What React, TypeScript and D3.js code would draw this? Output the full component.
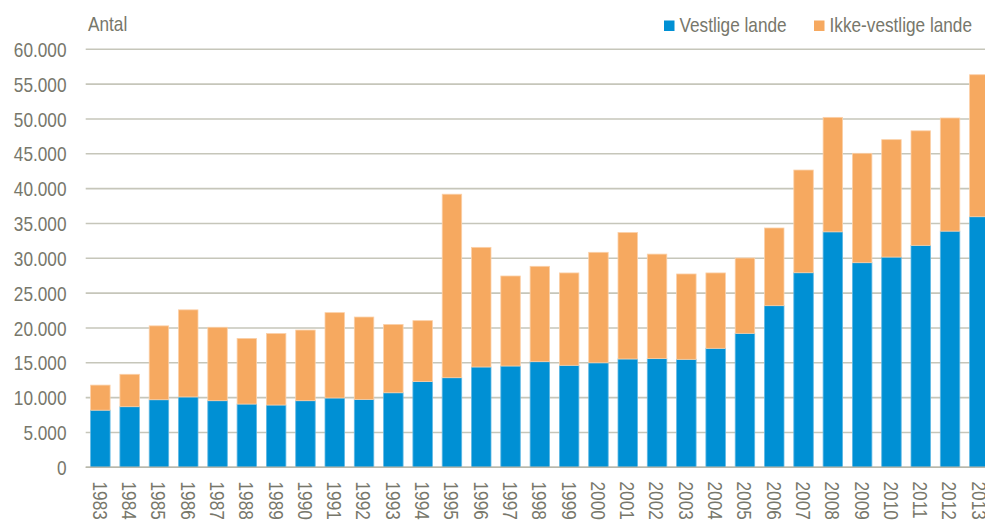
import React from "react";
import * as d3 from "d3";

const years = ["1983","1984","1985","1986","1987","1988","1989","1990","1991","1992","1993","1994","1995","1996","1997","1998","1999","2000","2001","2002","2003","2004","2005","2006","2007","2008","2009","2010","2011","2012","2013"];
const vestlige = [8200,8700,9700,10100,9560,9080,8940,9560,9950,9750,10700,12300,12860,14400,14540,15160,14640,15000,15550,15600,15500,17080,19230,23200,27930,33800,29370,30180,31860,33900,35970];
const totals = [11800,13350,20300,22600,20100,18500,19200,19700,22200,21570,20500,21050,39200,31570,27460,28850,27900,30860,33700,30600,27750,27900,30040,34350,42670,50230,45070,47030,48300,50140,56350];
const ikkeVestlige = totals.map((t, i) => t - vestlige[i]);
const yTicks = [0,5000,10000,15000,20000,25000,30000,35000,40000,45000,50000,55000,60000];
const seriesNames = ["Vestlige lande", "Ikke-vestlige lande"];
const colors = ["#0090d4", "#f6a960"];

const W = 985, H = 523;
const FONT = "'Liberation Sans', Arial, sans-serif";
const TXT = "#77776b";
const FS = 21;
const SX = 0.82;

function NText({ x, y, anchor = "start", rotate = 0, dy, children }: any) {
  return (
    <text transform={`translate(${x},${y}) rotate(${rotate}) scale(${SX},1)`} textAnchor={anchor} dy={dy}
      fontSize={FS} fill={TXT}>{children}</text>
  );
}

export default function App() {
  const x = d3.scaleBand<string>().domain(years).range([85.7, 85.7 + 31 * 29.3]).paddingInner(0.335).paddingOuter(0.1675);
  const y = d3.scaleLinear().domain([0, 60000]).range([467.3, 49.3]);
  const fmt = (v: number) => (v === 0 ? "0" : d3.format(",")(v).replace(/,/g, "."));
  const rows = years.map((yr, i) => ({ yr, v: vestlige[i], n: ikkeVestlige[i] }));
  const stack = d3.stack<any>().keys(["v", "n"])(rows);

  return (
    <svg width={W} height={H} style={{ position: "absolute", left: 0, top: 0 }} fontFamily={FONT}>
      {yTicks.map((t) => (
        <g key={t}>
          <line x1={85.7} x2={W} y1={y(t)} y2={y(t)} stroke="#c6c6ba" strokeWidth={1.6} />
          <NText x={66.5} y={y(t)} anchor="end" dy="0.36em">{fmt(t)}</NText>
        </g>
      ))}
      {stack.map((s, si) => (
        <g key={si} fill={colors[si]}>
          {s.map((d: any) => (
            <rect key={d.data.yr} x={x(d.data.yr)} width={x.bandwidth()} y={y(d[1])} height={y(d[0]) - y(d[1])}
              stroke={si === 0 ? "#5fb8e4" : "#fbd0a8"} strokeWidth={0.8} />
          ))}
        </g>
      ))}
      <line x1={85.7} x2={W} y1={y(0)} y2={y(0)} stroke="#b8b8ac" strokeWidth={1.6} />
      {years.map((yr) => (
        <NText key={yr} x={(x(yr) as number) + x.bandwidth() / 2} y={481.5} rotate={90} dy="0.36em">{yr}</NText>
      ))}
      <NText x={88} y={31}>Antal</NText>
      <rect x={664} y={20.5} width={10.5} height={10.5} fill={colors[0]} />
      <NText x={679.5} y={31.5}>{seriesNames[0]}</NText>
      <rect x={814} y={20.5} width={10.5} height={10.5} fill={colors[1]} />
      <NText x={829.5} y={31.5}>{seriesNames[1]}</NText>
    </svg>
  );
}
